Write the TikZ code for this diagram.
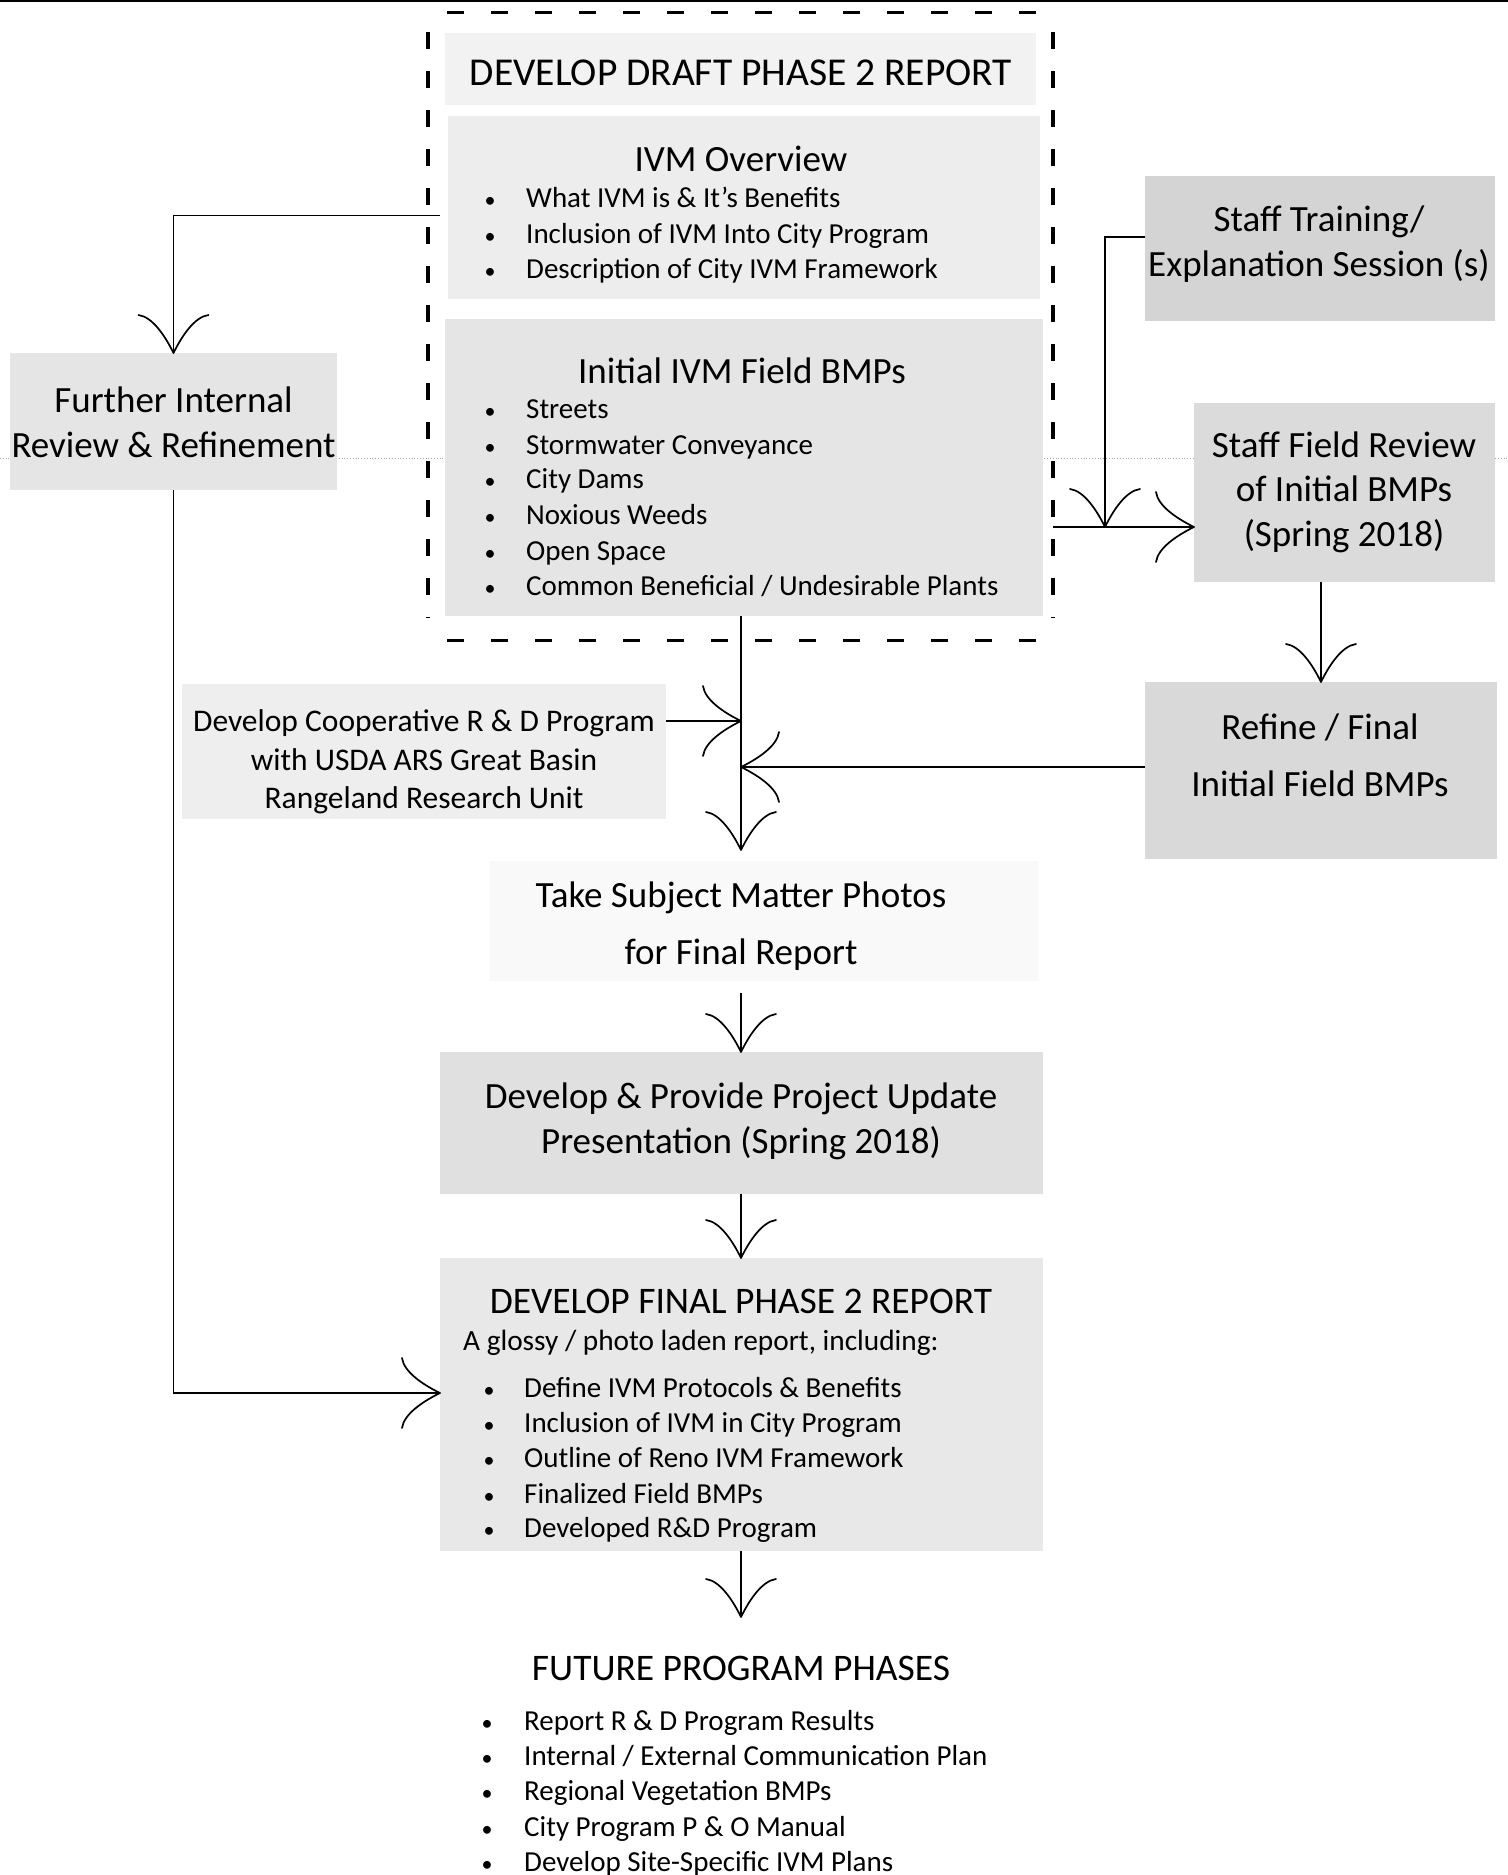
\documentclass[tikz,border=0pt]{standalone}
\usepackage{fontspec}
\setmainfont{Carlito}
\usetikzlibrary{arrows.meta,calc}

\pgfdeclarearrow{
  name = CV,
  parameters = {\the\pgfarrowlength,\the\pgfarrowwidth},
  setup code = {
    \pgfarrowssettipend{0pt}
    \pgfarrowssetlineend{-1pt}
    \pgfarrowssetbackend{-\pgfarrowlength}
    \pgfarrowsupperhullpoint{-\pgfarrowlength}{.5\pgfarrowwidth}
    \pgfarrowsupperhullpoint{0pt}{0pt}
    \pgfarrowssavethe\pgfarrowlength
    \pgfarrowssavethe\pgfarrowwidth
  },
  drawing code = {
    \pgfsetroundcap\pgfsetroundjoin
    \pgfsetdash{}{0pt}
    \pgfpathmoveto{\pgfqpoint{-\pgfarrowlength}{.5\pgfarrowwidth}}
    \pgfpathcurveto{\pgfqpoint{-.95\pgfarrowlength}{.3\pgfarrowwidth}}{\pgfqpoint{-.45\pgfarrowlength}{.12\pgfarrowwidth}}{\pgfpointorigin}
    \pgfpathcurveto{\pgfqpoint{-.45\pgfarrowlength}{-.12\pgfarrowwidth}}{\pgfqpoint{-.95\pgfarrowlength}{-.3\pgfarrowwidth}}{\pgfqpoint{-\pgfarrowlength}{-.5\pgfarrowwidth}}
    \pgfusepathqstroke
  },
  defaults = {length = 38pt, width = 70pt}
}

\tikzset{
  boxf/.style={fill=#1, draw=none, inner sep=0pt, outer sep=0pt},
  hd/.style={font=\fontsize{37}{45}\selectfont, align=center, inner sep=0pt},
  btxt/.style={font=\fontsize{29}{35}\selectfont, anchor=base west, inner sep=0pt},
  bul/.style={font=\fontsize{22}{28}\selectfont, anchor=base, inner sep=0pt},
  conn/.style={line width=1.7pt, -CV},
  dshh/.style={line width=3pt, dash pattern=on 17pt off 27pt},
  dshv/.style={line width=3.5pt, dash pattern=on 17pt off 22pt}
}

\begin{document}
\begin{tikzpicture}[x=1pt,y=-1pt]
\useasboundingbox (0,0) rectangle (1508,1875);
\fill[white] (0,0) rectangle (1508,1875);

% scan lines
\draw[line width=2pt] (0,1) -- (1508,1);
\draw[gray!70, dotted, line width=0.8pt] (0,458) -- (1508,458);

% shaded boxes
\node[boxf=gray!10, minimum width=591pt, minimum height=72pt]  (ttl)  at (740.5,69) {};
\node[boxf=gray!14, minimum width=592pt, minimum height=183pt] (ovr)  at (744,207.5) {};
\node[boxf=gray!20, minimum width=598pt, minimum height=297pt] (bmp)  at (744,467.5) {};
\node[boxf=gray!20, minimum width=327pt, minimum height=137pt] (fur)  at (173.5,421.5) {};
\node[boxf=gray!34, minimum width=350pt, minimum height=145pt] (tr)   at (1320,248.5) {};
\node[boxf=gray!28, minimum width=301pt, minimum height=179pt] (sfr)  at (1344.5,492.5) {};
\node[boxf=gray!30, minimum width=352pt, minimum height=177pt] (ref)  at (1321,770.5) {};
\node[boxf=gray!13, minimum width=484pt, minimum height=135pt] (coop) at (424,751.5) {};
\node[boxf=gray!5,  minimum width=548pt, minimum height=120pt] (pho)  at (764,921) {};
\node[boxf=gray!24, minimum width=603pt, minimum height=142pt] (dev)  at (741.5,1123) {};
\node[boxf=gray!18, minimum width=603pt, minimum height=293pt] (fin)  at (741.5,1404.5) {};
\node[inner sep=0pt, outer sep=0pt, minimum width=625pt, minimum height=628pt] (dbox) at (740.5,326) {};

% dashed outline
\draw[dshh] ([xshift=19pt]dbox.north west) -- ([xshift=-16pt]dbox.north east);
\draw[dshh] ([xshift=19pt]dbox.south west) -- ([xshift=-16pt]dbox.south east);
\draw[dshv] ([yshift=-20pt]dbox.north west) -- ([yshift=22pt]dbox.south west);
\draw[dshv] ([yshift=-20pt]dbox.north east) -- ([yshift=22pt]dbox.south east);

% headings and texts
\node[hd, font=\fontsize{39.5}{45}\selectfont] (ttlT) at (741,73) {DEVELOP DRAFT PHASE 2 REPORT};
\node[hd] (ovrT) at (741,159) {IVM Overview};
\node[hd] (bmpT) at (742,371) {Initial IVM Field BMPs};
\node[hd] (furT) at (173.5,422) {Further Internal\\Review \& Refinement};
\node[hd] (trT)  at (1319,244) {Staff Training/\\Explanation Session (s)};
\node[hd, font=\fontsize{37}{44.5}\selectfont] (sfrT) at (1344,492) {Staff Field Review\\of Initial BMPs\\(Spring 2018)};
\node[hd, font=\fontsize{37}{57}\selectfont] (refT) at (1320,755.5) {Refine / Final\\Initial Field BMPs};
\node[hd, font=\fontsize{31.5}{38.5}\selectfont] (coopT) at (424,762) {Develop Cooperative R \& D Program\\with USDA ARS Great Basin\\Rangeland Research Unit};
\node[hd, font=\fontsize{37}{57}\selectfont] (phoT) at (741,926.5) {Take Subject Matter Photos\\for Final Report};
\node[hd] (devT) at (741,1121.5) {Develop \& Provide Project Update\\Presentation (Spring 2018)};
\node[hd, font=\fontsize{37.5}{45}\selectfont] (finT) at (741,1301) {DEVELOP FINAL PHASE 2 REPORT};
\node[btxt, font=\fontsize{29.3}{35}\selectfont] (finS) at (463,1350) {A glossy / photo laden report, including:};
\node[hd, font=\fontsize{37.5}{45}\selectfont] (futT) at (741,1668) {FUTURE PROGRAM PHASES};

% bullet lists
\foreach \yy/\lbl [count=\i] in {197/{What IVM is \& It’s Benefits}, 233/{Inclusion of IVM Into City Program}, 268/{Description of City IVM Framework}}{
  \node[bul] (ovrd\i) at (490,\yy+10) {•};
  \node[btxt] (ovrb\i) at (526,\yy+10) {\lbl};
}
\foreach \yy/\lbl [count=\i] in {408/{Streets}, 444/{Stormwater Conveyance}, 478/{City Dams}, 514/{Noxious Weeds}, 550/{Open Space}, 585/{Common Beneficial / Undesirable Plants}}{
  \node[bul] (bmpd\i) at (490,\yy+10) {•};
  \node[btxt] (bmpb\i) at (526,\yy+10) {\lbl};
}
\foreach \yy/\lbl [count=\i] in {1387/{Define IVM Protocols \& Benefits}, 1422/{Inclusion of IVM in City Program}, 1457/{Outline of Reno IVM Framework}, 1493/{Finalized Field BMPs}, 1527/{Developed R\&D Program}}{
  \node[bul] (find\i) at (489,\yy+10) {•};
  \node[btxt] (finb\i) at (524,\yy+10) {\lbl};
}
\foreach \yy/\lbl [count=\i] in {1720/{Report R \& D Program Results}, 1755/{Internal / External Communication Plan}, 1790/{Regional Vegetation BMPs}, 1826/{City Program P \& O Manual}, 1861/{Develop Site-Specific IVM Plans}}{
  \node[bul] (futd\i) at (487,\yy+10) {•};
  \node[btxt] (futb\i) at (524,\yy+10) {\lbl};
}

% junction coordinates
\coordinate (j)  at (1105,527);
\coordinate (m1) at (741,721);
\coordinate (m2) at (741,767);
\coordinate (m3) at (741,850);
\coordinate (m4) at (741,1617);

% connectors
\draw[conn] ([shift={(-8,8)}]ovr.west) -| (fur.north);
\draw[conn] (fur.south) |- ([yshift=11.5pt]fin.west);
\draw[conn] (dbox.east |- j) -- (j -| sfr.west);
\draw[conn] ([yshift=11.5pt]tr.west) -| (j);
\draw[conn] (ref.north |- sfr.south) -- (ref.north);
\draw[conn] ([yshift=3.5pt]ref.west) -- (m2);
\draw[conn] (bmp.south -| m3) -- (m3);
\draw[conn] ([yshift=30.5pt]coop.east) -- (m1);
\draw[conn] ($(pho.south -| m3)+(0,12)$) -- (dev.north -| m3);
\draw[conn] (dev.south -| m3) -- (fin.north -| m3);
\draw[conn] (fin.south -| m3) -- (m4);
\end{tikzpicture}
\end{document}
